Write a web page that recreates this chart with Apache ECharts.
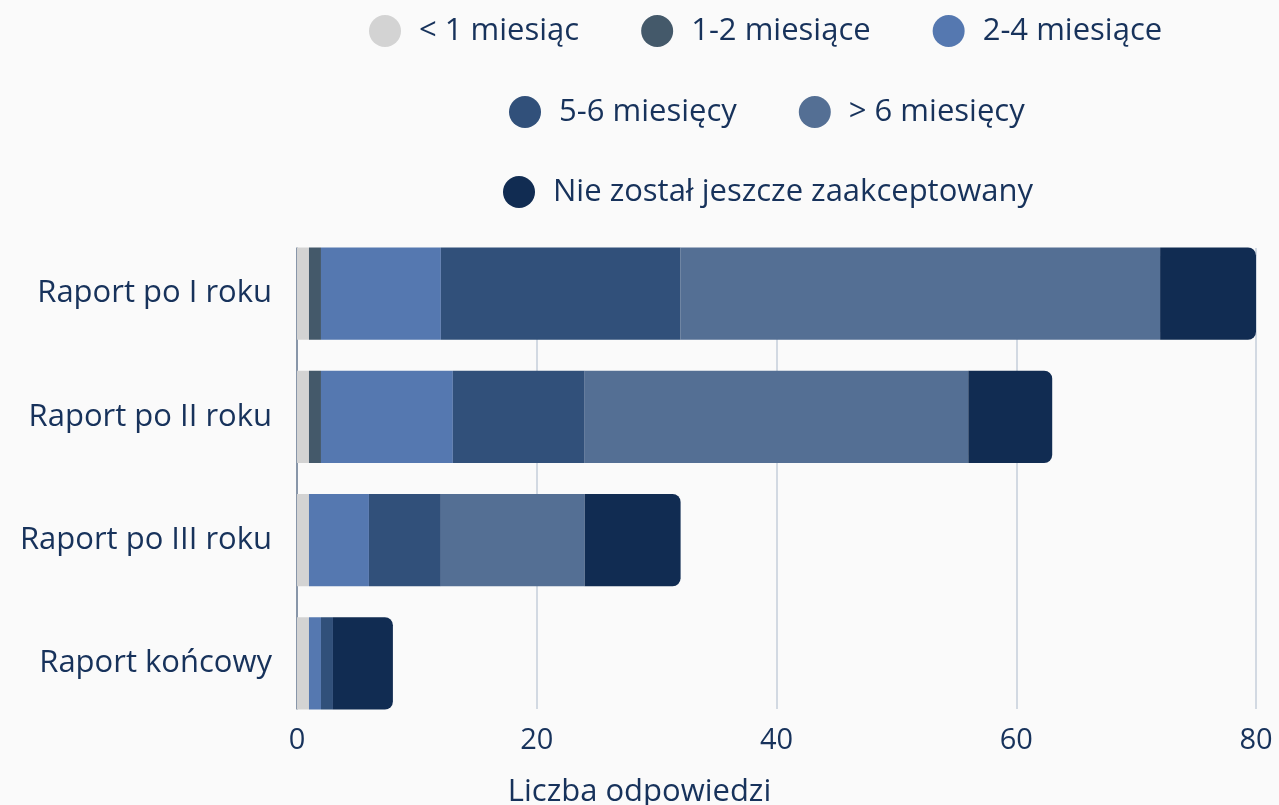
<!DOCTYPE html>
<html>
<head>
<meta charset="utf-8">
<script src="https://cdn.jsdelivr.net/npm/echarts@6/dist/echarts.min.js"></script>
<style>
    html, body { margin: 0; padding: 0; background: #fafafa; }
    #chart { width: 1279px; height: 805px; }
</style>
</head>
<body>
<div id="chart"></div>
<script>
// categories (top to bottom)
const categories = ['Raport po I roku', 'Raport po II roku', 'Raport po III roku', 'Raport końcowy']
const seriesNames = ['< 1 miesiąc', '1-2 miesiące', '2-4 miesiące', '5-6 miesięcy', '> 6 miesięcy', 'Nie został jeszcze zaakceptowany']
const lessThan1 = [1, 1, 1, 1]
const months1to2 = [1, 1, 0, 0]
const months2to4 = [10, 11, 5, 1]
const months5to6 = [20, 11, 6, 1]
const moreThan6 = [40, 32, 12, 0]
const notAccepted = [8, 7, 8, 5]
const xTicks = [0, 20, 40, 60, 80]

const colors = ['#d3d3d3', '#44596a', '#5578b0', '#31507a', '#546f94', '#112c52']
const textColor = '#17325b'
const font = 'Open Sans'

const dataList = [lessThan1, months1to2, months2to4, months5to6, moreThan6, notAccepted]

let chart = echarts.init(document.getElementById('chart'))

const legendBase = {
    orient: 'horizontal',
    icon: 'circle',
    itemWidth: 32,
    itemHeight: 32,
    itemGap: 62,
    textStyle: {
        fontFamily: font,
        fontSize: 31,
        color: textColor,
        padding: [0, 0, 0, 13]
    }
}

let option = {
    backgroundColor: '#fafafa',
    color: colors,
    title: {
        text: 'Liczba odpowiedzi',
        left: 'center',
        bottom: -8,
        textStyle: {
            fontFamily: font,
            fontSize: 31,
            fontWeight: 'normal',
            color: textColor
        }
    },
    legend: [
        Object.assign({}, legendBase, { left: 364, top: 10, data: seriesNames.slice(0, 3) }),
        Object.assign({}, legendBase, { left: 504, top: 91, data: seriesNames.slice(3, 5) }),
        Object.assign({}, legendBase, { left: 498, top: 171, data: seriesNames.slice(5) })
    ],
    grid: [
        // bars
        { left: 297, right: 23, top: 232, bottom: 80 },
        // gridlines, axis line and tick labels, tight around the bars
        { left: 297, right: 23, top: 248, bottom: 96 }
    ],
    xAxis: [{
        gridIndex: 0,
        type: 'value',
        min: 0,
        max: 80,
        interval: 20,
        show: false
    }, {
        gridIndex: 1,
        type: 'value',
        min: 0,
        max: 80,
        interval: 20,
        axisLine: { show: false },
        axisTick: { show: false },
        axisLabel: {
            fontFamily: font,
            fontSize: 29,
            color: textColor,
            margin: 17,
            customValues: xTicks
        },
        splitLine: {
            lineStyle: { color: '#c5ceda', width: 1.5 }
        },
        z: 0
    }],
    yAxis: [{
        gridIndex: 0,
        type: 'category',
        inverse: true,
        data: categories,
        axisLine: { show: false },
        axisTick: { show: false },
        axisLabel: {
            fontFamily: font,
            fontSize: 31,
            color: textColor,
            margin: 25
        }
    }, {
        gridIndex: 1,
        type: 'category',
        inverse: true,
        data: categories,
        axisLine: {
            lineStyle: { color: '#6f7f96', width: 1.5 }
        },
        axisTick: { show: false },
        axisLabel: { show: false },
        z: 0
    }],
    series: seriesNames.map((name, i) => ({
        name: name,
        type: 'bar',
        stack: 'total',
        xAxisIndex: 0,
        yAxisIndex: 0,
        barCategoryGap: '25%',
        data: dataList[i],
        itemStyle: {
            color: colors[i],
            borderRadius: i === seriesNames.length - 1 ? [0, 8, 8, 0] : 0
        },
        z: 3,
        emphasis: { disabled: true }
    }))
}

chart.setOption(option)
</script>
</body>
</html>
